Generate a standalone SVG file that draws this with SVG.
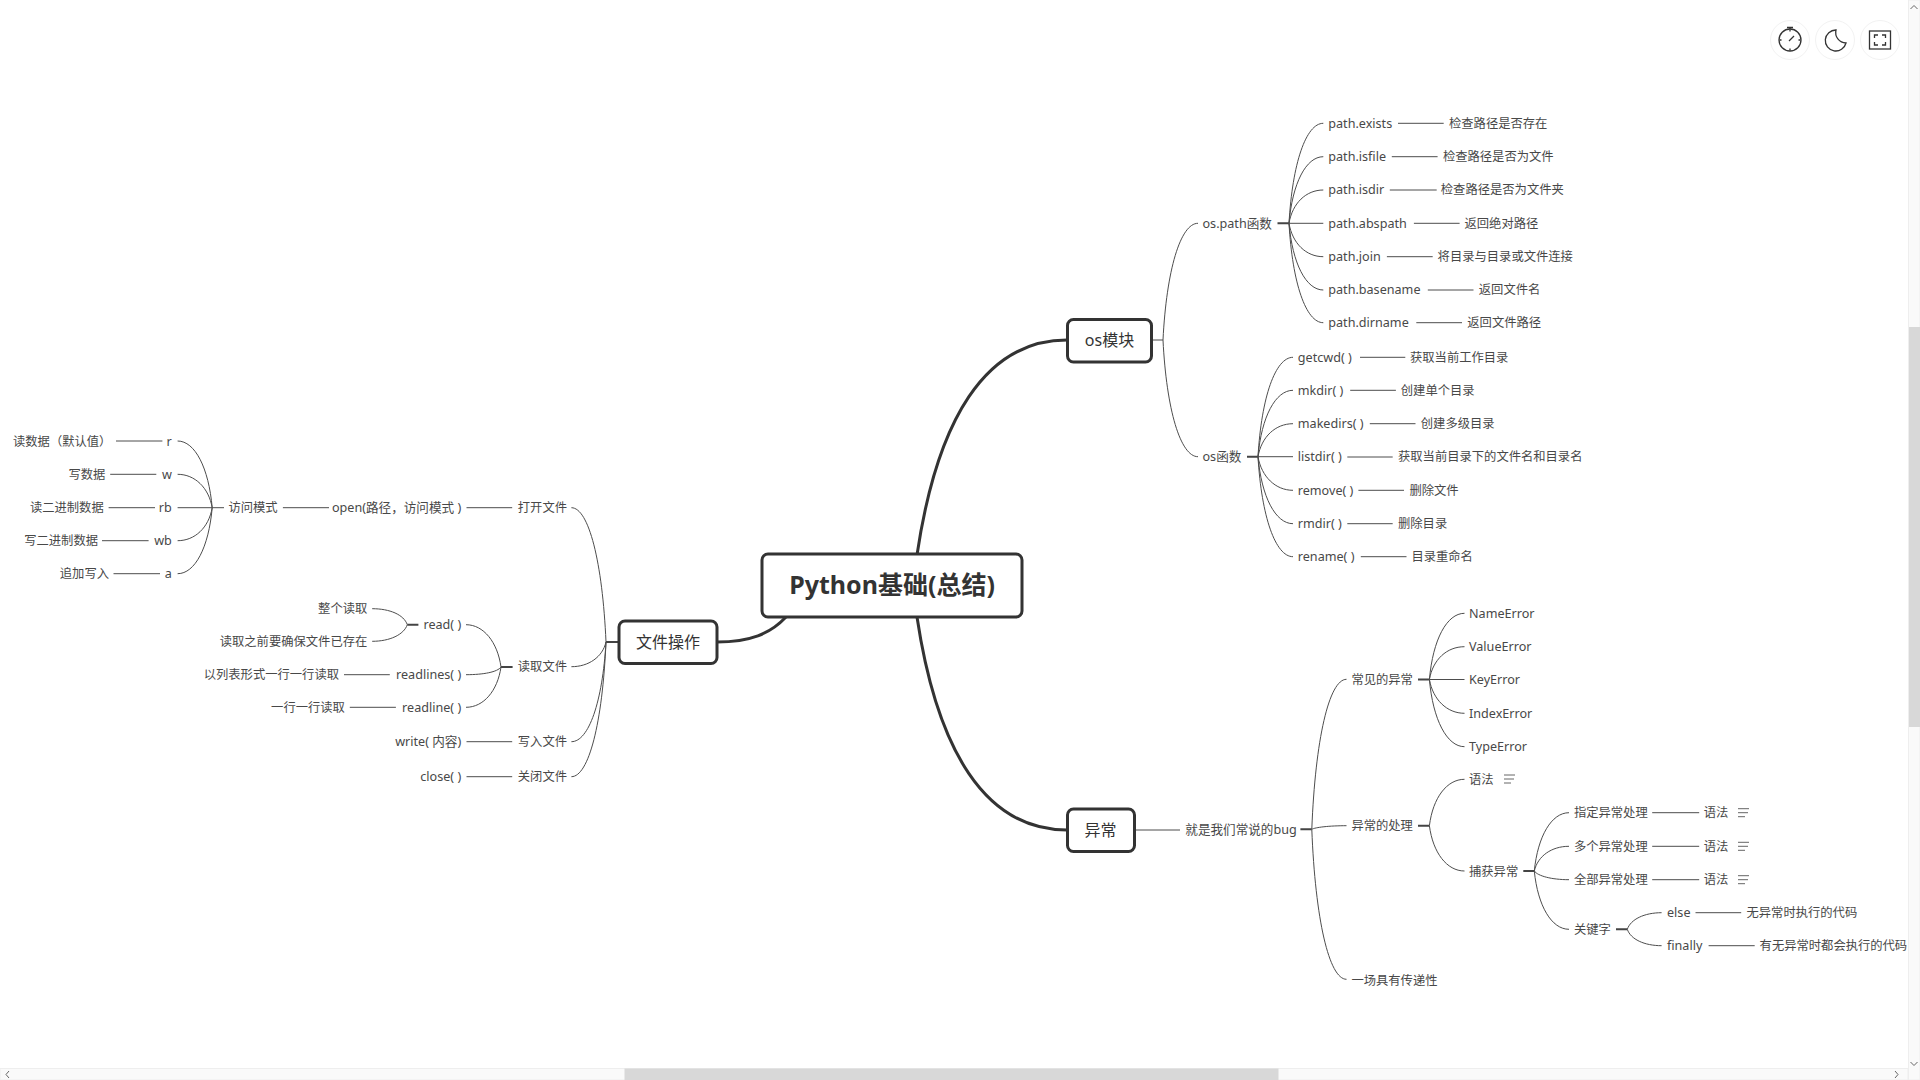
<svg xmlns="http://www.w3.org/2000/svg" width="1920" height="1080" viewBox="0 0 1920 1080">
<style>
text{font-family:"Noto Sans","Noto Sans CJK SC",sans-serif;font-size:12.300px;fill:#484848;dominant-baseline:central}
.l{font-size:12.600px}
.e{text-anchor:end}
.m{text-anchor:middle;font-size:16px;fill:#333}
.root{text-anchor:middle;font-size:25px;font-weight:700;fill:#333}
.box{fill:#fff;stroke:#333;stroke-width:3}
#connectors path{fill:none;stroke:#4d4d4d;stroke-width:1}
#connectors .s{stroke:#444;stroke-width:2}
#connectors .b{stroke:#333;stroke-width:3}
.n{fill:none;stroke:#666;stroke-width:1}
.ic{fill:none;stroke:#333;stroke-width:1.300}
.btn{fill:#fff;stroke:#f2f2f2;stroke-width:1}
</style>
<defs><g id="note"><path class="n" d="M0 0H11M0 4H10M0 8H7"/></g></defs>
<rect width="1920" height="1080" fill="#fff"/>
<g id="connectors">
<path class="b" d="M917 555C937 420 985 340 1067 340"/>
<path class="b" d="M917 617C937 750 985 830 1067 830"/>
<path class="b" d="M717 642C750 642 770 634 786 617"/>
<path d="M1152 340H1163M1163 340c3.500-70 17.500-116.700 35-116.700M1163 340c3.500 70 17.500 116.700 35 116.700"/>
<path class="s" d="M1277.500 223.300H1289M1247 456.700H1258M1418 679.500H1429.400M1418 825.700H1429.400M1523.300 871H1534.300M1616 929.300H1627.300M1300.400 829.300H1311.800M606 642H618M501 667H512.600M407.300 624.700H418.400"/>
<path d="M1289 223.300c3.400-60 17-100 34.300-100M1289 223.300c3.400-40 17-66.600 34.300-66.600M1289 223.300c3.400-20 17-33.300 34.300-33.300M1289 223.300H1323.300M1289 223.300c3.400 20 17 33.400 34.300 33.400M1289 223.300c3.400 40 17 66.700 34.300 66.700M1289 223.300c3.400 60 17 99.400 34.300 99.400"/>
<path d="M1398 123.300H1443.700M1391.800 156.700H1437.600M1389.800 190H1436.700M1413.900 223.300H1459.600M1386.900 256.700H1432.700M1427.800 290H1473.500M1416.300 322.700H1462"/>
<path d="M1258 456.700c3.500-60 17.500-99.400 35-99.400M1258 456.700c3.500-40 17.500-66.400 35-66.400M1258 456.700c3.500-20 17.500-33 35-33M1258 456.700H1293M1258 456.700c3.500 20 17.500 33.600 35 33.600M1258 456.700c3.500 40 17.500 67 35 67M1258 456.700c3.500 60 17.500 100 35 100"/>
<path d="M1360 357.300H1405.300M1350.200 390.300H1395.900M1369.800 423.700H1415.500M1347.300 457H1392.700M1358.400 490.300H1404M1347.300 523.700H1392.700M1360.800 556.700H1406.500"/>
<path d="M1134 830H1180"/>
<path d="M1311.800 829.300c3.500-90 17.300-150 34.700-150M1311.800 829.300c3.500-2 17.300-3.600 34.700-3.600M1311.800 829.300c3.500 90 17.300 150 34.700 150"/>
<path d="M1429.400 679.500c3.500-40 17.500-66.200 35.100-66.200M1429.400 679.500c3.500-20 17.500-32.800 35.100-32.800M1429.400 679.500H1464.500M1429.400 679.500c3.500 20 17.500 33.800 35.100 33.800M1429.400 679.500c3.500 40 17.500 67.200 35.100 67.200"/>
<path d="M1429.400 825.700c3.500-28 17.500-46.400 35.100-46.400M1429.400 825.700c3.500 27 17.500 45.300 35.100 45.300"/>
<path d="M1534.300 871c3.500-35 17.300-58.300 34.700-58.300M1534.300 871c3.500-15 17.300-24.700 34.700-24.700M1534.300 871c3.500 5 17.300 8.700 34.700 8.700M1534.300 871c3.500 35 17.300 58.300 34.700 58.300"/>
<path d="M1652.200 812.700H1699.200M1652.200 846.300H1699.200M1652.200 879.700H1699.200"/>
<path d="M1627.300 929.300c3.400-10 17-16.600 34.300-16.600M1627.300 929.300c3.400 10 17 16.400 34.300 16.400"/>
<path d="M1695.500 912.700H1741.200M1708.600 945.700H1754.700"/>
<path d="M606 642c-3.500-80-17.300-134.300-34.600-134.300M606 642c-3.500 15-17.300 24.700-34.600 24.700M606 642c-3.500 60-17.300 99.700-34.600 99.700M606 642c-3.500 81-17.300 134.700-34.600 134.700"/>
<path d="M466.500 507.700H512.200M282.900 507.700H329M466.500 741.700H512.200M466.500 776.700H512.200"/>
<path d="M224 507.700H212.200M212.200 507.700c-3.500-40-17.300-66.700-34.600-66.700M212.200 507.700c-3.500-20-17.300-33.400-34.600-33.400M212.200 507.700H177.600M212.200 507.700c-3.500 20-17.300 33-34.600 33M212.200 507.700c-3.500 40-17.300 66-34.600 66"/>
<path d="M116 441H162.400M110.200 474.300H156.300M108.600 507.700H155M102 540.700H148.600M113.500 573.700H160"/>
<path d="M501 667c-3.500-25-17.500-42.300-35-42.300M501 667c-3.500 5-17.500 7.700-35 7.700M501 667c-3.500 24-17.500 40.300-35 40.300"/>
<path d="M344 674.700H389.800M349.800 707.300H395.900"/>
<path d="M407.300 624.700c-3.500-10-17.500-16-35.100-16M407.300 624.700c-3.500 10-17.500 16.600-35.100 16.600"/>
</g>
<g id="root"><rect class="box" x="762" y="554" width="260" height="63" rx="6"/><text class="root" x="892" y="584">Python基础(总结)</text></g>
<g id="os"><rect class="box" x="1067.500" y="319.500" width="84" height="42.500" rx="6"/><text class="m" x="1109.500" y="339.500">os模块</text></g>
<g id="file"><rect class="box" x="619" y="621" width="98" height="42.500" rx="6"/><text class="m" x="668" y="641.500">文件操作</text></g>
<g id="exc"><rect class="box" x="1067.500" y="809" width="67" height="42.500" rx="6"/><text class="m" x="1100.500" y="829.500">异常</text></g>

<g id="ospath"><text class="l" x="1202.500" y="223">os.path函数</text></g>
<g id="p1"><text class="l" x="1328.300" y="123">path.exists</text></g>
<g id="p1d"><text x="1449" y="123">检查路径是否存在</text></g>
<g id="p2"><text class="l" x="1328.300" y="156.500">path.isfile</text></g>
<g id="p2d"><text x="1442.900" y="156.500">检查路径是否为文件</text></g>
<g id="p3"><text class="l" x="1328.300" y="189.500">path.isdir</text></g>
<g id="p3d"><text x="1440.800" y="189.500">检查路径是否为文件夹</text></g>
<g id="p4"><text class="l" x="1328.300" y="223">path.abspath</text></g>
<g id="p4d"><text x="1464.500" y="223">返回绝对路径</text></g>
<g id="p5"><text class="l" x="1328.300" y="256.500">path.join</text></g>
<g id="p5d"><text x="1437.600" y="256.500">将目录与目录或文件连接</text></g>
<g id="p6"><text class="l" x="1328.300" y="289.500">path.basename</text></g>
<g id="p6d"><text x="1478.800" y="289.500">返回文件名</text></g>
<g id="p7"><text class="l" x="1328.300" y="322.500">path.dirname</text></g>
<g id="p7d"><text x="1467.300" y="322.500">返回文件路径</text></g>

<g id="osfn"><text class="l" x="1202.500" y="456.500">os函数</text></g>
<g id="f1"><text class="l" x="1297.800" y="357">getcwd( )</text></g>
<g id="f1d"><text x="1410" y="357">获取当前工作目录</text></g>
<g id="f2"><text class="l" x="1297.800" y="390">mkdir( )</text></g>
<g id="f2d"><text x="1400.800" y="390">创建单个目录</text></g>
<g id="f3"><text class="l" x="1297.800" y="423.500">makedirs( )</text></g>
<g id="f3d"><text x="1420.800" y="423.500">创建多级目录</text></g>
<g id="f4"><text class="l" x="1297.800" y="456.500">listdir( )</text></g>
<g id="f4d"><text x="1398" y="456.500">获取当前目录下的文件名和目录名</text></g>
<g id="f5"><text class="l" x="1297.800" y="490">remove( )</text></g>
<g id="f5d"><text x="1409.400" y="490">删除文件</text></g>
<g id="f6"><text class="l" x="1297.800" y="523">rmdir( )</text></g>
<g id="f6d"><text x="1398" y="523">删除目录</text></g>
<g id="f7"><text class="l" x="1297.800" y="556.500">rename( )</text></g>
<g id="f7d"><text x="1411.400" y="556.500">目录重命名</text></g>

<g id="bug"><text class="l" x="1185.300" y="829.300">就是我们常说的bug</text></g>
<g id="common"><text x="1351.400" y="679.300">常见的异常</text></g>
<g id="e1"><text class="l" x="1469" y="613.300">NameError</text></g>
<g id="e2"><text class="l" x="1469" y="646.700">ValueError</text></g>
<g id="e3"><text class="l" x="1469" y="679.700">KeyError</text></g>
<g id="e4"><text class="l" x="1469" y="713.300">IndexError</text></g>
<g id="e5"><text class="l" x="1469" y="746.700">TypeError</text></g>
<g id="handle"><text x="1351.400" y="825.700">异常的处理</text></g>
<g id="syntax"><text x="1469" y="779.300">语法</text><use href="#note" x="1504" y="775"/></g>
<g id="catch"><text x="1469" y="871">捕获异常</text></g>
<g id="c1"><text x="1573.900" y="812.700">指定异常处理</text></g>
<g id="c1s"><text x="1703.700" y="812.700">语法</text><use href="#note" x="1738" y="808.700"/></g>
<g id="c2"><text x="1573.900" y="846.300">多个异常处理</text></g>
<g id="c2s"><text x="1703.700" y="846.300">语法</text><use href="#note" x="1738" y="842.300"/></g>
<g id="c3"><text x="1573.900" y="879.700">全部异常处理</text></g>
<g id="c3s"><text x="1703.700" y="879.700">语法</text><use href="#note" x="1738" y="875.700"/></g>
<g id="kw"><text x="1573.900" y="929.300">关键字</text></g>
<g id="else"><text class="l" x="1667" y="912.700">else</text></g>
<g id="elsed"><text x="1746.500" y="912.700">无异常时执行的代码</text></g>
<g id="finally"><text class="l" x="1667" y="945.700">finally</text></g>
<g id="finallyd"><text x="1759.600" y="945.700">有无异常时都会执行的代码</text></g>
<g id="prop"><text x="1351.400" y="980">一场具有传递性</text></g>

<g id="open"><text class="e" x="567" y="507.700">打开文件</text></g>
<g id="openfn"><text class="e l" x="461.200" y="507.700">open(路径，访问模式 )</text></g>
<g id="mode"><text class="e" x="277.600" y="507.700">访问模式</text></g>
<g id="mr"><text class="e l" x="171.800" y="441">r</text></g>
<g id="mrd"><text x="13" y="441">读数据（默认值）</text></g>
<g id="mw"><text class="e l" x="171.800" y="474.300">w</text></g>
<g id="mwd"><text class="e" x="105.300" y="474.300">写数据</text></g>
<g id="mrb"><text class="e l" x="171.800" y="507.700">rb</text></g>
<g id="mrbd"><text class="e" x="103.700" y="507.700">读二进制数据</text></g>
<g id="mwb"><text class="e l" x="171.800" y="540.700">wb</text></g>
<g id="mwbd"><text class="e" x="98" y="540.700">写二进制数据</text></g>
<g id="ma"><text class="e l" x="171.800" y="573.700">a</text></g>
<g id="mad"><text class="e" x="109" y="573.700">追加写入</text></g>
<g id="rd"><text class="e" x="567" y="666.700">读取文件</text></g>
<g id="read"><text class="e l" x="461.200" y="624.700">read( )</text></g>
<g id="read1"><text class="e" x="367.300" y="608.700">整个读取</text></g>
<g id="read2"><text class="e" x="367.300" y="641.300">读取之前要确保文件已存在</text></g>
<g id="rls"><text class="e l" x="461.200" y="674.700">readlines( )</text></g>
<g id="rlsd"><text class="e" x="339" y="674.700">以列表形式一行一行读取</text></g>
<g id="rl"><text class="e l" x="461.200" y="707.300">readline( )</text></g>
<g id="rld"><text class="e" x="344.900" y="707.300">一行一行读取</text></g>
<g id="wr"><text class="e" x="567" y="741.700">写入文件</text></g>
<g id="wrf"><text class="e l" x="461.200" y="741.700">write( 内容)</text></g>
<g id="cl"><text class="e" x="567" y="776.700">关闭文件</text></g>
<g id="clf"><text class="e l" x="461.200" y="776.700">close( )</text></g>

<g id="timer"><circle class="btn" cx="1790" cy="40" r="19.500"/><circle class="ic" cx="1790" cy="40" r="11"/><path class="ic" d="M1787 27.500H1793M1790 27.500V29M1790 29.500V31.500M1790 48.500V50.500M1779.500 40H1781.500M1798.500 40H1800.500"/><path class="ic" d="M1789 41L1794 36"/></g>
<g id="moon"><circle class="btn" cx="1835" cy="40" r="19.500"/><path class="ic" d="M1836 30A10.500 10.500 0 1 0 1846 43A10.500 10.500 0 0 1 1836 30Z"/></g>
<g id="full"><circle class="btn" cx="1880" cy="40" r="19.500"/><rect class="ic" x="1869.500" y="31" width="21" height="18"/><path class="ic" d="M1874.500 38V35H1878M1882 35H1885.500V38M1885.500 42V45H1882M1878 45H1874.500V42"/></g>

<rect x="1908.500" y="0" width="11.500" height="1080" fill="#fafafa" stroke="#eee"/>
<rect x="1909" y="327" width="11" height="400" fill="#d8d8d8"/>
<rect x="0" y="1068.500" width="1908" height="11.500" fill="#fafafa" stroke="#eee"/>
<rect x="624.500" y="1068.500" width="654" height="11.500" fill="#d8d8d8"/>
<path class="n" stroke="#aaa" d="M1910.500 9L1914 5.500L1917.500 9M1910.500 1062L1914 1065.500L1917.500 1062M9 1071L6 1074.500L9 1078M1895 1071L1898 1074.500L1895 1078"/>
</svg>
